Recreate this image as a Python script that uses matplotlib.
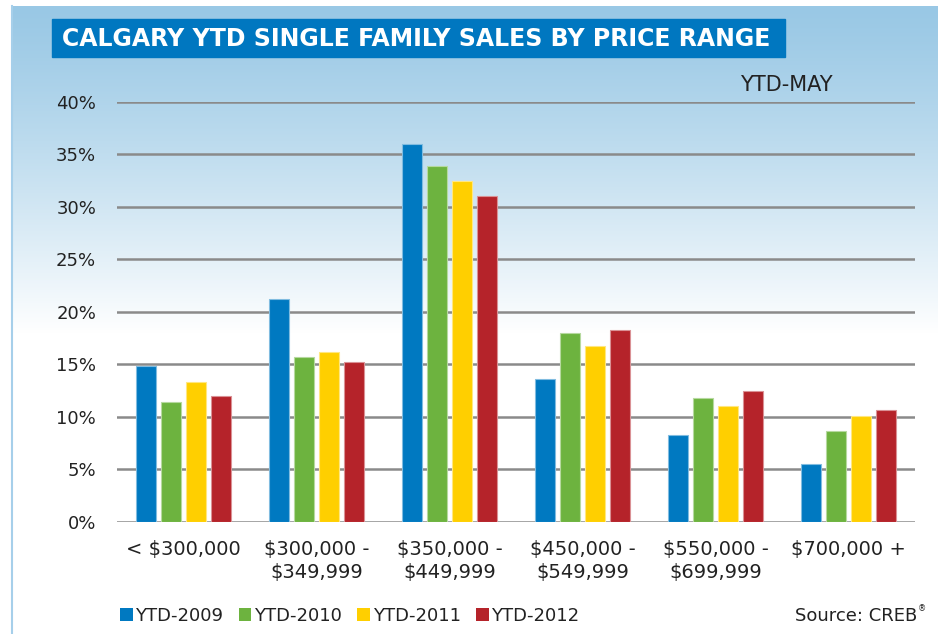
import numpy as np
import matplotlib.pyplot as plt
from matplotlib.patches import Patch, Rectangle
from matplotlib.colors import to_rgb

categories = ["< $300,000", "$300,000 -\n$349,999", "$350,000 -\n$449,999",
              "$450,000 -\n$549,999", "$550,000 -\n$699,999", "$700,000 +"]
series_names = ["YTD-2009", "YTD-2010", "YTD-2011", "YTD-2012"]
ytd_2009 = [14.8, 21.2, 36.0, 13.6, 8.3, 5.5]
ytd_2010 = [11.4, 15.7, 33.9, 18.0, 11.8, 8.6]
ytd_2011 = [13.3, 16.2, 32.5, 16.7, 11.0, 10.1]
ytd_2012 = [12.0, 15.2, 31.0, 18.3, 12.5, 10.6]
colors = ["#0079c1", "#6db33f", "#ffcf00", "#b5232a"]
y_ticks = [0, 5, 10, 15, 20, 25, 30, 35, 40]

FONT = "DejaVu Sans"
TXT = "#222222"
W, H = 938, 634

fig = plt.figure(figsize=(W / 100, H / 100), dpi=100)

# background: light blue gradient fading to white
bg = fig.add_axes([0, 0, 1, 1], zorder=-10)
bg.set_xlim(0, W)
bg.set_ylim(H, 0)
bg.axis("off")
top = np.array(to_rgb("#99c8e5"))
white = np.ones(3)
ys = np.linspace(0, 1, 400)[:, None]
t = np.clip(ys * H / 330, 0, 1) ** 1.2
grad = (top * (1 - t) + white * t)[:, None, :]
bg.imshow(grad, extent=[11, W, H, 6], aspect="auto", zorder=0)
bg.plot([12, 12], [6, H], color="#a6cfea", lw=1.5, zorder=1)

# title box
bg.add_patch(Rectangle((52, 19), 733, 38, color="#0077c0", zorder=2))
bg.text(62, 39, "CALGARY YTD SINGLE FAMILY SALES BY PRICE RANGE", color="white",
        fontsize=17, fontweight="bold", family=FONT, va="center", ha="left", zorder=3)

ax = fig.add_axes([117 / W, 112.3 / H, 798 / W, 419.7 / H])
ax.patch.set_alpha(0)

x = np.arange(len(categories))
width = 0.15
step = 0.19
all_series = [ytd_2009, ytd_2010, ytd_2011, ytd_2012]
for i, (vals, c) in enumerate(zip(all_series, colors)):
    edge = tuple(np.array(to_rgb(c)) * 0.5 + 0.5)
    ax.bar(x + (i - 1.5) * step, vals, width, color=c, edgecolor=edge,
           linewidth=0.8, zorder=3)

ax.set_xlim(-0.5, len(categories) - 0.5)
ax.set_ylim(0, 40)
ax.set_yticks(y_ticks)
ax.set_yticklabels([f"{v}%" for v in y_ticks], family=FONT, fontsize=13, color=TXT)
ax.set_xticks(x)
ax.set_xticklabels(categories, family=FONT, fontsize=14, color=TXT, linespacing=1.3)
ax.tick_params(length=0)
ax.tick_params(axis="y", pad=15)
ax.tick_params(axis="x", pad=13)
for s in ax.spines.values():
    s.set_visible(False)
ax.grid(axis="y", color="#8a8a8a", linewidth=1.8, zorder=1)
ax.set_axisbelow(True)

fig.text(786 / W, 1 - 85 / H, "YTD-MAY", family=FONT, fontsize=15, color=TXT,
         ha="center", va="center")

handles = [Patch(facecolor=c, edgecolor="none") for c in colors]
fig.legend(handles, series_names, loc="center left", bbox_to_anchor=(120 / W, 1 - 616 / H),
           ncol=4, frameon=False, handlelength=0.7, handleheight=0.7, handletextpad=0.15,
           columnspacing=0.85, prop={"family": FONT, "size": 13}, borderaxespad=0,
           borderpad=0, labelcolor=TXT)

fig.text(917 / W, 1 - 616 / H, "Source: CREB", family=FONT, fontsize=13,
         color=TXT, ha="right", va="center")
fig.text(918 / W, 1 - 609 / H, "®", family=FONT, fontsize=6,
         color=TXT, ha="left", va="center")

fig.savefig("out.png", dpi=100)
